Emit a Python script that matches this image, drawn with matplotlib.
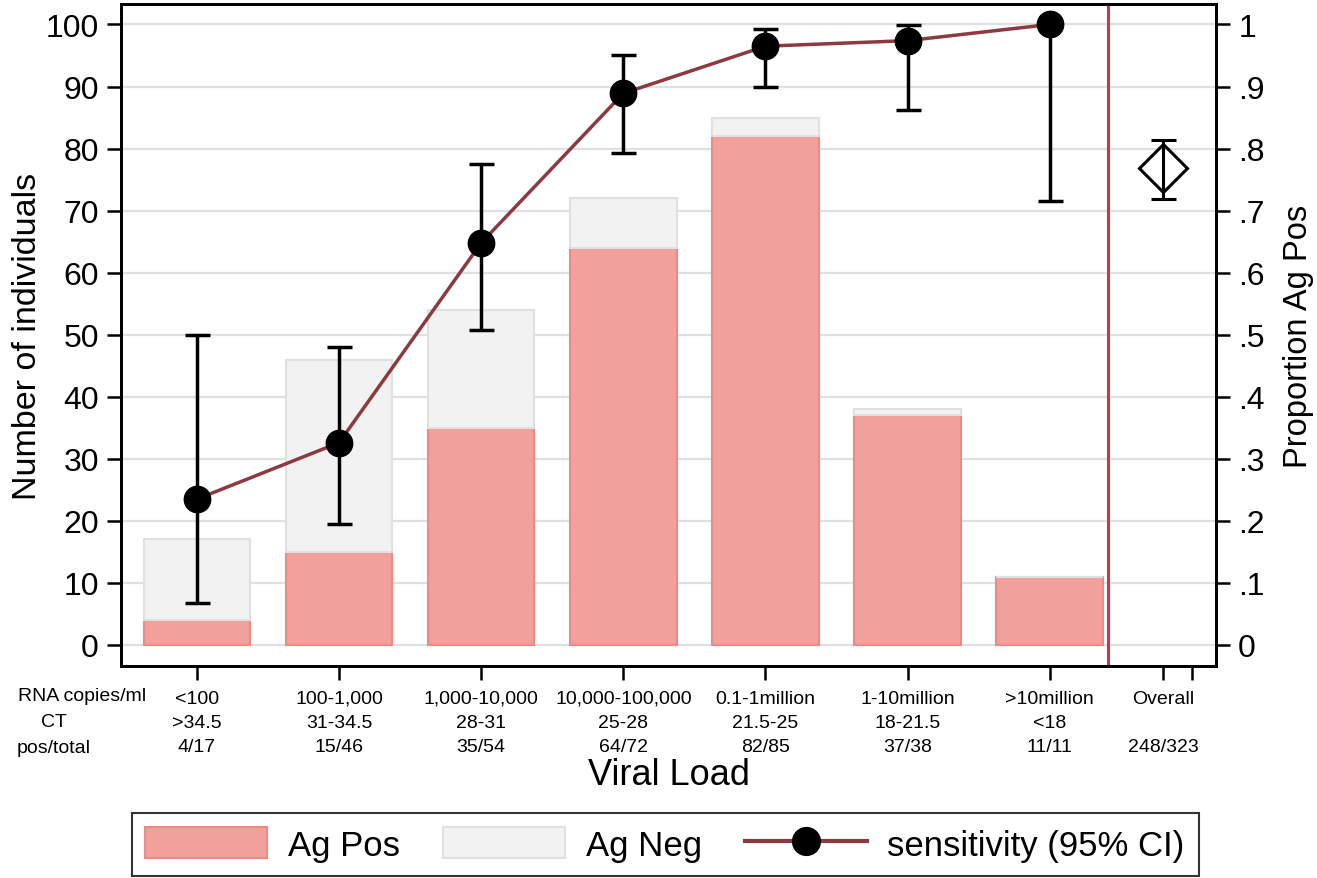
import numpy as np
import matplotlib
matplotlib.use("Agg")
import matplotlib.pyplot as plt
from matplotlib.patches import Patch
from matplotlib.lines import Line2D
import matplotlib.transforms as mtransforms

# --- data ------------------------------------------------------------------
copies = ["<100", "100-1,000", "1,000-10,000", "10,000-100,000",
          "0.1-1million", "1-10million", ">10million"]
ct_ranges = [">34.5", "31-34.5", "28-31", "25-28", "21.5-25", "18-21.5", "<18"]
ag_pos = [4, 15, 35, 64, 82, 37, 11]
totals = [17, 46, 54, 72, 85, 38, 11]
sensitivity = [0.235, 0.326, 0.648, 0.889, 0.965, 0.974, 1.0]
ci_low = [0.068, 0.195, 0.507, 0.793, 0.900, 0.862, 0.715]
ci_high = [0.499, 0.480, 0.775, 0.951, 0.993, 0.999, 1.0]
overall_pos, overall_total = 248, 323
overall_sens = 0.768
overall_ci = (0.718, 0.813)

POS_FILL, POS_EDGE = "#F1A09B", "#EC8A85"
NEG_FILL, NEG_EDGE = "#F2F2F2", "#E0E0E0"
LINE_C = "#8C3A40"
SEP_C = "#C23B4B"
plt.rcParams["font.family"] = ["Liberation Sans", "DejaVu Sans"]

x = np.arange(1, len(copies) + 1)
x_overall = 7.8
ag_neg = [t - p for t, p in zip(totals, ag_pos)]

fig = plt.figure(figsize=(13.17, 8.79), dpi=100)
ax = fig.add_axes([0.0919, 0.2412, 0.8314, 0.7531])

ax.bar(x, ag_pos, width=0.75, color=POS_FILL, edgecolor=POS_EDGE, linewidth=1.5, zorder=2)
ax.bar(x, ag_neg, bottom=ag_pos, width=0.75, color=NEG_FILL, edgecolor=NEG_EDGE,
       linewidth=1.5, zorder=2)
ax.axvline(7.41, color=SEP_C, lw=2.2, zorder=3)

ax.set_xlim(0.466, 8.17)
ax.set_ylim(-3.4, 103.3)
ax.set_yticks(range(0, 101, 10))
ax.yaxis.grid(True, color="#E0E0E0", lw=1.6, zorder=0)
ax.set_axisbelow(True)
ax.tick_params(axis="y", labelsize=23, length=10, width=1.8, pad=6)
ax.set_ylabel("Number of individuals", fontsize=24.5, labelpad=2)

xticks = list(x) + [x_overall, 8.0]
xlabels = [f"{c}\n{r}\n{p}/{t}" for c, r, p, t in zip(copies, ct_ranges, ag_pos, totals)]
xlabels += [f"Overall\n\n{overall_pos}/{overall_total}", ""]
ax.set_xticks(xticks)
ax.set_xticklabels(xlabels, fontsize=14)
ax.tick_params(axis="x", length=10, width=1.8, pad=7)
for lab in ax.get_xticklabels():
    lab.set_linespacing(1.56)
ax.set_xlabel("Viral Load", fontsize=26, labelpad=1)

for s in ax.spines.values():
    s.set_linewidth(2)

# row titles at the left of the tick labels
trans = mtransforms.blended_transform_factory(fig.transFigure, ax.transAxes)
row_y = [-0.0453, -0.0846, -0.1224]
ax.text(82 / 1317, row_y[0], "RNA copies/ml", transform=trans, ha="center", va="center",
        fontsize=14)
ax.text(54 / 1317, row_y[1], "CT", transform=trans, ha="center", va="center", fontsize=14)
ax.text(54 / 1317, row_y[2], "pos/total", transform=trans, ha="center", va="center",
        fontsize=14)

# right axis: proportion
ax2 = ax.twinx()
ax2.set_ylim(-0.034, 1.033)
ax2.set_yticks(np.arange(0, 1.01, 0.1))
ax2.set_yticklabels(["0"] + [f".{i}" for i in range(1, 10)] + ["1"])
ax2.tick_params(axis="y", labelsize=23, length=10, width=1.8, pad=6)
ax2.set_ylabel("Proportion Ag Pos", fontsize=23.5, labelpad=13)
for s in ax2.spines.values():
    s.set_linewidth(2)

yerr = [np.array(sensitivity) - np.array(ci_low), np.array(ci_high) - np.array(sensitivity)]
ax2.plot(x, sensitivity, color=LINE_C, lw=2.5, zorder=3)
ax2.errorbar(x, sensitivity, yerr=yerr, fmt="none", ecolor="black", elinewidth=2.5,
             capsize=9, capthick=2.5, zorder=4)
ax2.plot(x, sensitivity, "o", color="black", ms=19, zorder=5)

ax2.errorbar([x_overall], [overall_sens],
             yerr=[[overall_sens - overall_ci[0]], [overall_ci[1] - overall_sens]],
             fmt="none", ecolor="black", elinewidth=2.2, capsize=9, capthick=2.2, zorder=4)
ax2.plot([x_overall], [overall_sens], "D", mfc="none", mec="black", mew=2.2, ms=24, zorder=5)

handles = [
    Patch(facecolor=POS_FILL, edgecolor=POS_EDGE, linewidth=1.5, label="Ag Pos"),
    Patch(facecolor=NEG_FILL, edgecolor=NEG_EDGE, linewidth=1.5, label="Ag Neg"),
    Line2D([0], [0], color=LINE_C, lw=3, marker="o", mfc="black", mec="black", ms=20,
           label="sensitivity (95% CI)"),
]
leg = fig.legend(handles=handles, loc="lower center", bbox_to_anchor=(0.505, -0.017),
                 ncol=3, frameon=True, fancybox=False, edgecolor="black",
                 prop={"size": 25}, handlelength=3.5, handleheight=1.0,
                 handletextpad=0.6, columnspacing=1.25, borderpad=0.4, numpoints=1)
leg.get_frame().set_linewidth(1.5)

fig.savefig("out.png", dpi=100)
